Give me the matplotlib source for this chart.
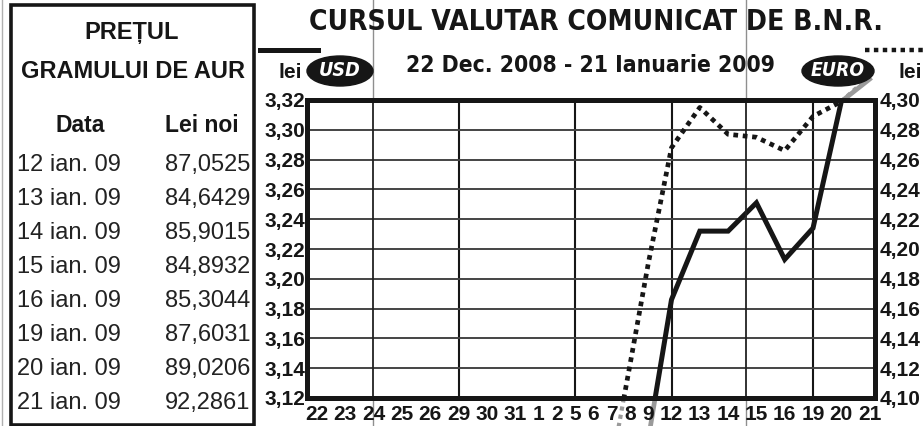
import numpy as np
import matplotlib
matplotlib.use("Agg")
import matplotlib.pyplot as plt
from matplotlib.lines import Line2D
from matplotlib.patches import Ellipse, Rectangle
from matplotlib.transforms import blended_transform_factory

# trading days on the x axis (22 Dec 2008 - 21 Jan 2009)
days = ["22", "23", "24", "25", "26", "29", "30", "31", "1", "2", "5", "6",
        "7", "8", "9", "12", "13", "14", "15", "16", "19", "20", "21"]
week_starts = ["29", "5", "12", "19"]

# BNR rates, lei (only the part near the visible range)
usd_days = ["9", "12", "13", "14", "15", "16", "19", "20", "21"]
usd_vals = [3.092, 3.186, 3.232, 3.232, 3.251, 3.213, 3.234, 3.319, 3.334]
eur_days = ["7", "8", "9", "12", "13", "14", "15", "16", "19", "20", "21"]
eur_vals = [4.055, 4.122, 4.190, 4.268, 4.295, 4.277, 4.275, 4.266, 4.289, 4.299, 4.316]

usd_ticks = [3.12, 3.14, 3.16, 3.18, 3.20, 3.22, 3.24, 3.26, 3.28, 3.30, 3.32]
eur_ticks = [4.10, 4.12, 4.14, 4.16, 4.18, 4.20, 4.22, 4.24, 4.26, 4.28, 4.30]

# gold price table
gold_dates = ["12 ian. 09", "13 ian. 09", "14 ian. 09", "15 ian. 09",
              "16 ian. 09", "19 ian. 09", "20 ian. 09", "21 ian. 09"]
gold_prices = [87.0525, 84.6429, 85.9015, 84.8932, 85.3044, 87.6031, 89.0206, 92.2861]

W, H = 924, 426
BOLD = ["Liberation Sans", "DejaVu Sans"]
COND = ["DejaVu Sans"]
INK = "#161616"


def fx(px):
    return px / W


def fy(py):
    return 1 - py / H


def comma(v, n):
    return f"{v:.{n}f}".replace(".", ",")


def fit_width(t, width):
    # shrink/grow a text so it spans about `width` pixels, like the print
    fig.canvas.draw()
    bb = t.get_window_extent()
    t.set_fontsize(t.get_fontsize() * width / bb.width)


# labels are packed by their width, as in the print
char_w, gap = 10.0, 8.3
xpos = [10.0]
for a, b in zip(days[:-1], days[1:]):
    xpos.append(xpos[-1] + (len(a) + len(b)) / 2 * char_w + gap)
pos = dict(zip(days, xpos))
usd_x = [pos[d] for d in usd_days]
eur_x = [pos[d] for d in eur_days]

fig = plt.figure(figsize=(W / 100, H / 100), dpi=100)
rect = [fx(307), fy(398), fx(875) - fx(307), (398 - 100) / H]
xlim = (0, 568)

# out-of-frame parts show in grey, drawn under the white plot area
bg_usd = fig.add_axes(rect, zorder=0.5)
bg_eur = fig.add_axes(rect, zorder=0.5)
for bg, lim in ((bg_usd, (3.12, 3.32)), (bg_eur, (4.10, 4.30))):
    bg.set_xlim(*xlim)
    bg.set_ylim(*lim)
    bg.axis("off")
bg_usd.plot(usd_x, usd_vals, color="#9a9a9a", lw=3.4, clip_on=False)
bg_eur.plot(eur_x, eur_vals, color="#9a9a9a", lw=3.0, ls=(0, (1, 1)), clip_on=False)

ax = fig.add_axes(rect, zorder=1)
ax.set_facecolor("white")
ax.set_xlim(*xlim)
ax.set_ylim(3.12, 3.32)
ax.plot(usd_x, usd_vals, color=INK, lw=3.6, solid_joinstyle="miter")

ax.set_yticks(usd_ticks, [comma(v, 2) for v in usd_ticks])
ax.set_xticks(xpos, days)
ax.yaxis.grid(True, color="#444444", lw=1.4)
for d in week_starts:
    ax.axvline(pos[d], color=INK, lw=1.5, zorder=0.8)
ax.tick_params(length=0, labelsize=15, colors=INK)
ax.tick_params(axis="y", pad=1)
ax.tick_params(axis="x", pad=5)
for lab in ax.get_xticklabels() + ax.get_yticklabels():
    lab.set_fontweight("bold")
    lab.set_family(BOLD)
for sp in ax.spines.values():
    sp.set_linewidth(3.6)
    sp.set_color(INK)

ax2 = ax.twinx()
ax2.set_zorder(2)
ax2.set_ylim(4.10, 4.30)
ax2.plot(eur_x, eur_vals, color=INK, lw=3.4, ls=(0, (1, 1)))
ax2.set_yticks(eur_ticks, [comma(v, 2) for v in eur_ticks])
ax2.tick_params(length=0, labelsize=15, colors=INK, pad=3)
for lab in ax2.get_yticklabels():
    lab.set_fontweight("bold")
    lab.set_family(BOLD)
for sp in ax2.spines.values():
    sp.set_visible(False)

# grey fold lines of the scanned page
for px in (373, 746):
    fig.add_artist(Line2D([fx(px)] * 2, [0, 1], color="#8f8f8f", lw=1.0, zorder=0.2))
    ax.plot([fx(px)] * 2, [0, 1], color="#222222", lw=1.3,
            transform=blended_transform_factory(fig.transFigure, ax.transAxes))
fig.add_artist(Line2D([fx(2)] * 2, [0, 1], color="#b0b0b0", lw=1.0, zorder=0.2))

# titles (condensed bold)
title = fig.text(fx(596), fy(22), "CURSUL VALUTAR COMUNICAT DE B.N.R.", ha="center",
                 va="center", fontsize=22, fontweight="bold", family=COND,
                 fontstretch="condensed", color=INK)
sub = fig.text(fx(590), fy(66), "22 Dec. 2008 - 21 Ianuarie 2009", ha="center", va="center",
               fontsize=18, fontweight="bold", family=COND, fontstretch="condensed", color=INK)
fit_width(title, 572)
fit_width(sub, 370)

# legend marks
fig.add_artist(Line2D([fx(260), fx(318)], [fy(50)] * 2, color=INK, lw=3.6))
fig.add_artist(Line2D([fx(865), fx(924)], [fy(50)] * 2, color=INK, lw=3.2,
                      ls=(0, (1, 1))))
for cx, ew, name, tw in ((340, 66, "USD", 42), (838, 72, "EURO", 54)):
    fig.add_artist(Ellipse((fx(cx), fy(71)), ew / W, 30 / H, color=INK,
                           transform=fig.transFigure))
    t = fig.text(fx(cx), fy(71), name, ha="center", va="center", color="white",
                 fontsize=14, fontweight="bold", style="italic", family=COND,
                 fontstretch="condensed")
    fit_width(t, tw)
fig.text(fx(290), fy(72), "lei", ha="center", va="center", fontsize=15,
         fontweight="bold", family=BOLD, color=INK)
fig.text(fx(910), fy(73), "lei", ha="center", va="center", fontsize=15,
         fontweight="bold", family=BOLD, color=INK)

# gold table
fig.add_artist(Rectangle((fx(11), fy(425)), fx(254) - fx(11), (425 - 5) / H, fill=False,
                         lw=2.6, edgecolor=INK, transform=fig.transFigure))
fig.text(fx(132), fy(33), "PREȚUL", ha="center", va="center", fontsize=17,
         fontweight="bold", family=BOLD, color=INK)
fig.text(fx(133), fy(72), "GRAMULUI DE AUR", ha="center", va="center", fontsize=17,
         fontweight="bold", family=BOLD, color=INK)
fig.text(fx(80), fy(125), "Data", ha="center", va="center", fontsize=16.5,
         fontweight="bold", family=BOLD, color=INK)
fig.text(fx(202), fy(125), "Lei noi", ha="center", va="center", fontsize=16.5,
         fontweight="bold", family=BOLD, color=INK)
for i, (d, p) in enumerate(zip(gold_dates, gold_prices)):
    y = fy(165 + i * 34)
    fig.text(fx(17), y, d, ha="left", va="center", fontsize=17, family=BOLD, color="#222222")
    fig.text(fx(250), y, comma(p, 4), ha="right", va="center", fontsize=17,
             family=BOLD, color="#222222")

fig.savefig("out.png", dpi=100)
